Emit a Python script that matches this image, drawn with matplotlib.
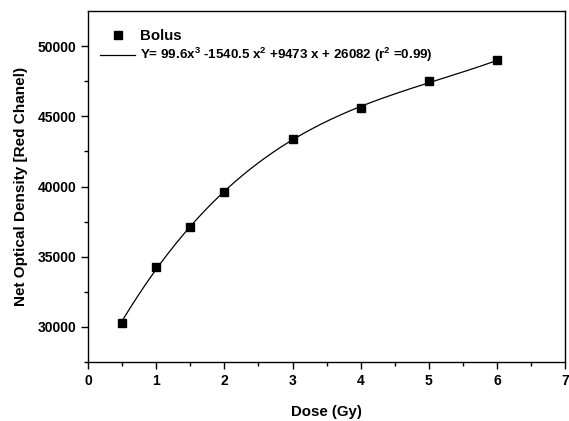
import matplotlib
matplotlib.use('Agg')
import matplotlib.pyplot as plt
import numpy as np

plt.rcParams['font.family'] = ['Liberation Sans', 'DejaVu Sans']
plt.rcParams['font.weight'] = 'bold'
plt.rcParams['mathtext.fontset'] = 'custom'
plt.rcParams['mathtext.bf'] = 'Liberation Sans:bold'
plt.rcParams['mathtext.rm'] = 'Liberation Sans:bold'
plt.rcParams['mathtext.default'] = 'bf'

# measured points
dose = [0.5, 1.0, 1.5, 2.0, 3.0, 4.0, 5.0, 6.0]
net_od = [30300, 34300, 37100, 39600, 43400, 45600, 47500, 49000]

# cubic fit coefficients quoted in the legend
fit_coef = [99.6, -1540.5, 9473, 26082]
fit_label = r'Y= 99.6x$^3$ -1540.5 x$^2$ +9473 x + 26082 (r$^2$ =0.99)'

x_ticks = [0, 1, 2, 3, 4, 5, 6, 7]
y_ticks = [30000, 35000, 40000, 45000, 50000]

fig = plt.figure(figsize=(5.69, 4.21), dpi=100)
ax = fig.add_axes([0.155, 0.140, 0.838, 0.834])

xf = np.linspace(min(dose), max(dose), 200)
ax.plot(xf, np.polyval(fit_coef, xf), color='black', lw=0.9, label=fit_label)
ax.plot(dose, net_od, 's', color='black', ms=6, label='Bolus')

ax.set_xlim(0, 7)
ax.set_ylim(27500, 52500)
ax.set_xticks(x_ticks)
ax.set_yticks(y_ticks)
ax.set_xticks(np.arange(0.5, 7, 1), minor=True)
ax.set_yticks(np.arange(27500, 52500, 5000), minor=True)
ax.tick_params(axis='both', which='major', direction='out', length=5, width=1, labelsize=10)
ax.tick_params(axis='both', which='minor', direction='out', length=3, width=1)
for lbl in ax.get_xticklabels() + ax.get_yticklabels():
    lbl.set_fontweight('bold')
for s in ax.spines.values():
    s.set_linewidth(1)

ax.set_xlabel('Dose (Gy)', fontsize=10.8, fontweight='bold', labelpad=12)
ax.set_ylabel('Net Optical Density [Red Chanel)', fontsize=11, fontweight='bold', labelpad=7)

h, l = ax.get_legend_handles_labels()
leg = ax.legend(h[::-1], l[::-1], loc='upper left', frameon=False, handlelength=2.6,
                handletextpad=0.4, labelspacing=0.25, bbox_to_anchor=(0.0, 0.983),
                prop={'weight': 'bold', 'size': 9.6})
leg.get_texts()[0].set_fontsize(10.8)

fig.savefig('out.png', dpi=100)
